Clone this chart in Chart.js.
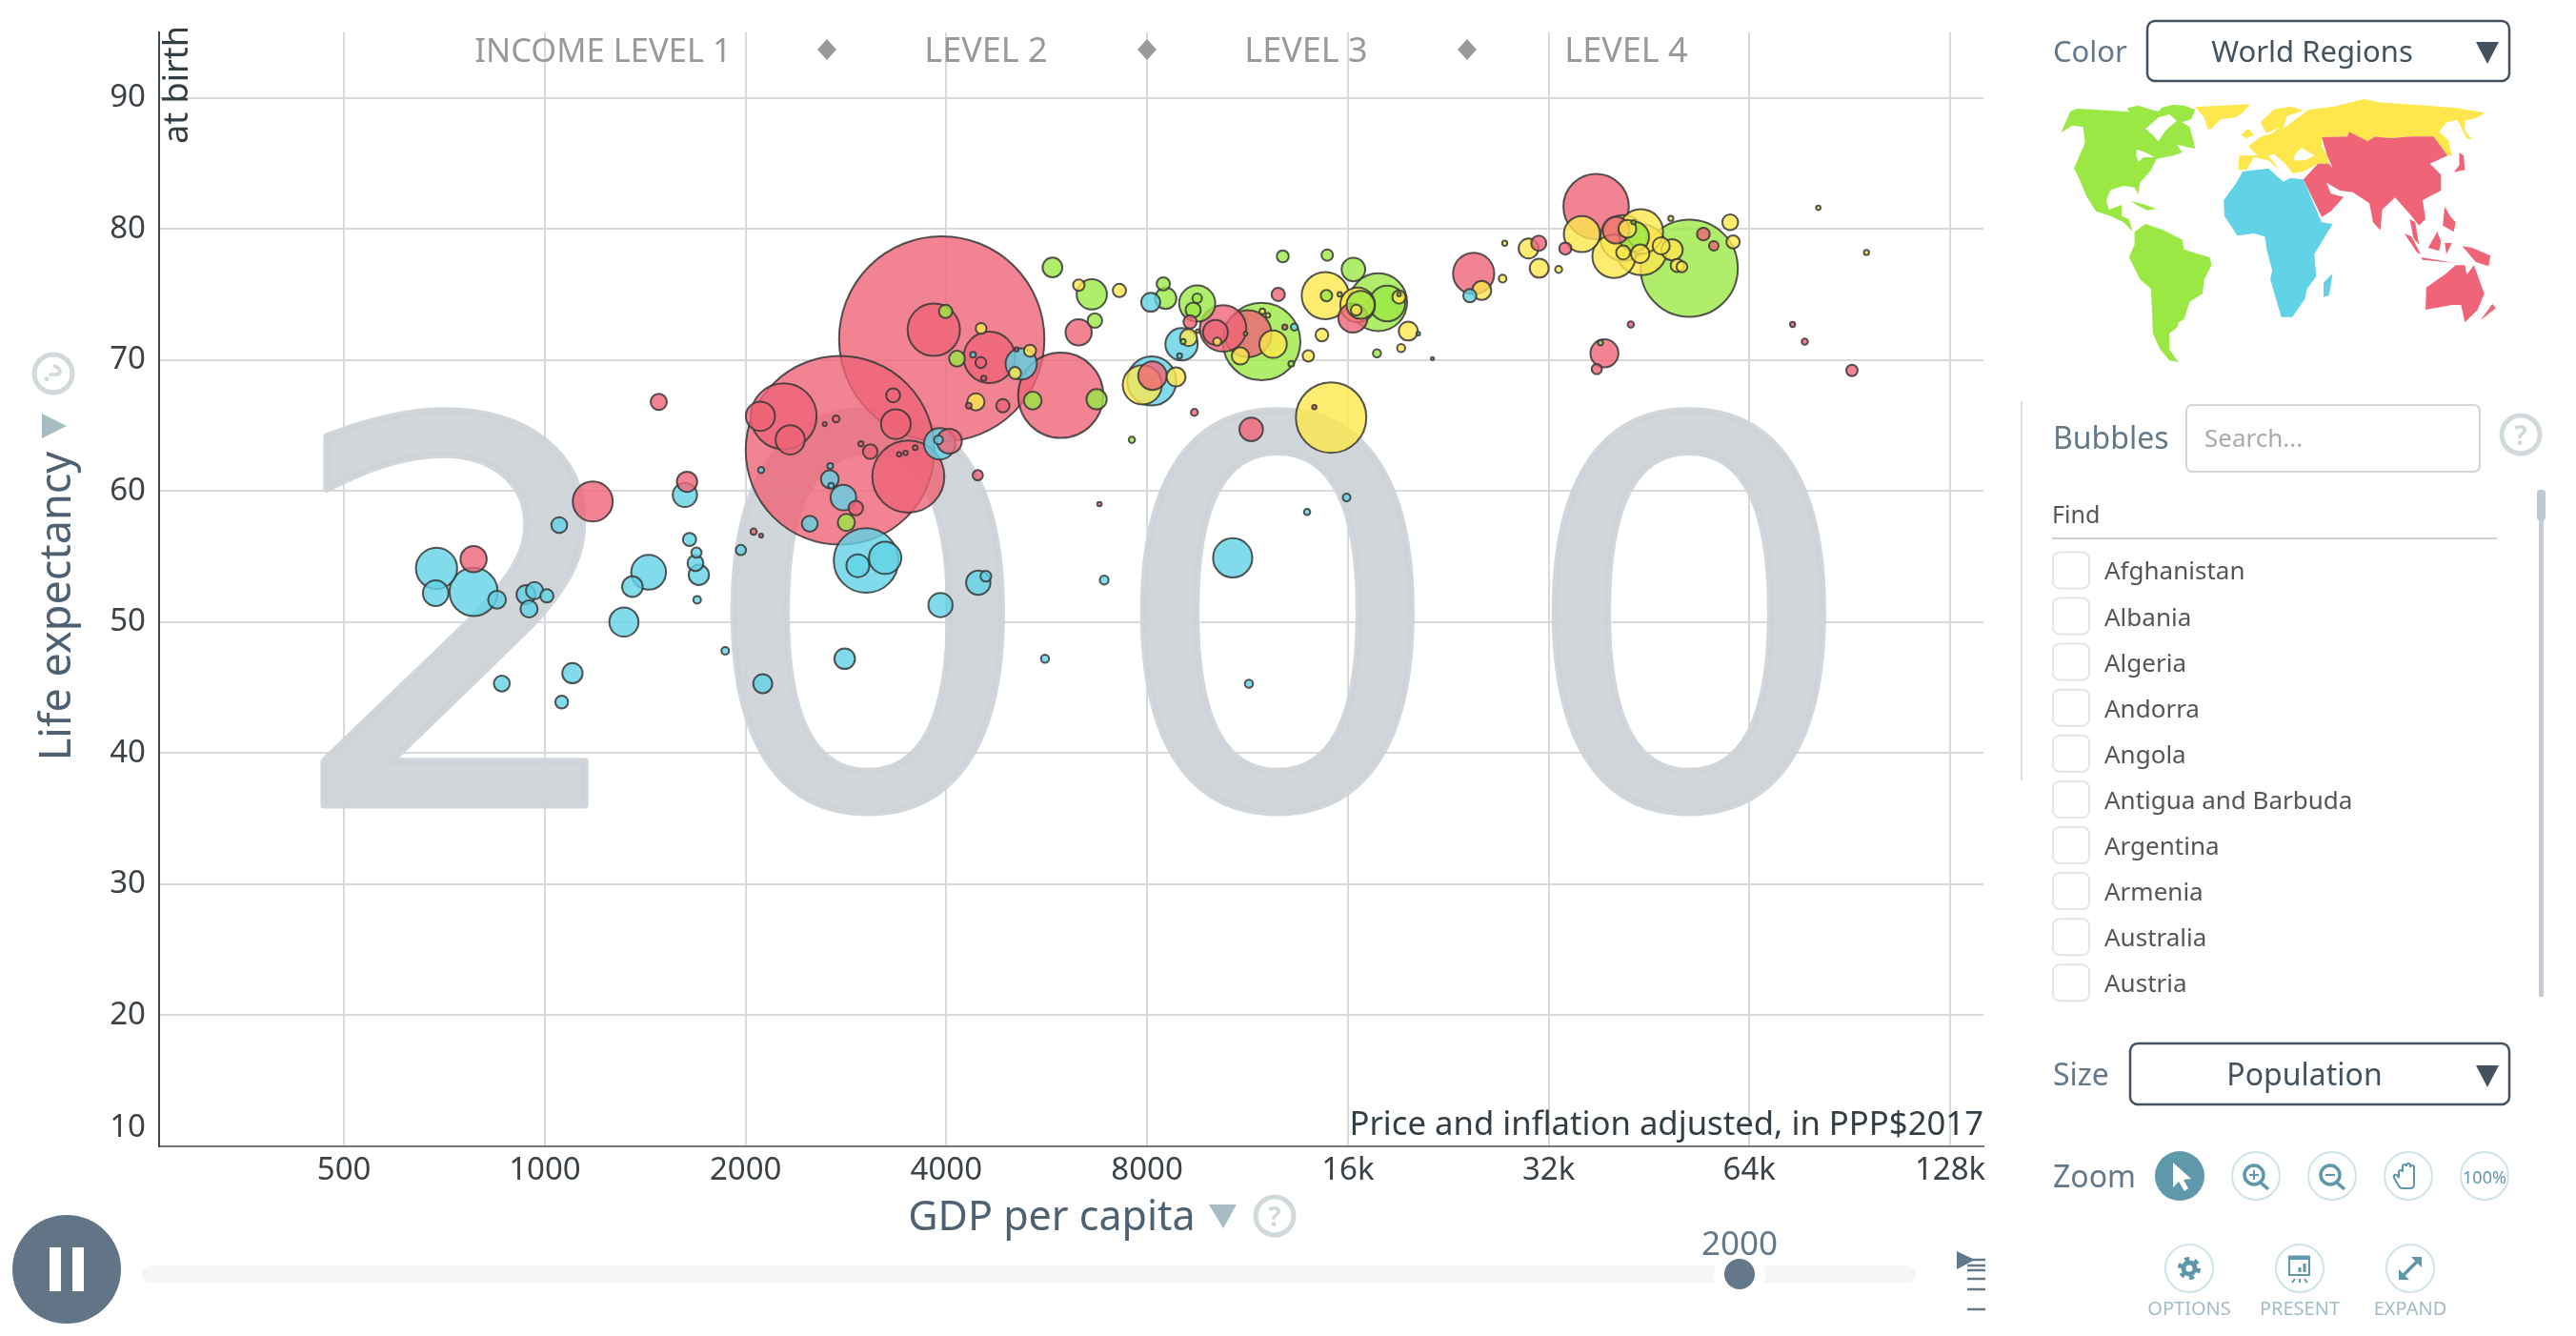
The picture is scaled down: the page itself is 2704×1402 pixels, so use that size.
<!DOCTYPE html>
<html>
<head>
<meta charset="utf-8">
<title>GDP per capita vs life expectancy, 2000</title>
<script src="https://cdn.jsdelivr.net/npm/chart.js@4/dist/chart.umd.min.js"></script>
<style>
  html, body { margin: 0; padding: 0; background: #fff; width: 2704px; height: 1402px; overflow: hidden; }
  body { position: relative; font-family: "Noto Sans", sans-serif; }
  #chart { position: absolute; left: 0; top: 0; }
  #overlay { position: absolute; left: 0; top: 0; }
  .lbl { position: absolute; white-space: nowrap; line-height: 1; }
</style>
</head>
<body>
<canvas id="chart" width="2704" height="1402" style="width:2704px;height:1402px"></canvas>

<svg id="overlay" width="2704" height="1402" viewBox="0 0 2704 1402">
  <!-- world map, traced by hand -->
  <g transform="translate(2100,0) scale(0.3852,0.3333)">
    <g fill="#9be845">
      <polygon points="165,418 190,350 210,342 350,352 345,340 375,332 410,345 430,350 440,338 470,330 500,332 530,345 520,375 495,385 515,400 525,440 530,468 480,455 495,480 470,490 425,500 410,535 380,575 375,612 365,590 335,585 300,598 288,630 295,660 330,645 330,680 350,690 360,730 335,700 300,680 260,665 235,620 215,565 200,530 215,490 230,450 225,400 195,395"/>
      <polygon points="355,632 395,645 425,658 400,662 370,645"/>
      <polygon points="365,730 395,705 445,725 495,755 500,785 525,795 570,810 575,835 555,880 550,925 515,950 500,1005 485,1015 482,1030 460,1050 460,1100 485,1140 460,1135 435,1100 415,1050 410,910 380,880 350,810 365,770"/>
    </g>
    <g fill="#fff">
      <polygon points="395,405 430,370 460,360 480,380 450,410 430,445 415,425"/>
      <polygon points="370,470 395,480 420,495 390,495 375,510 370,490"/>
    </g>
    <g fill="#fde74c">
      <polygon points="530,337 680,328 660,355 640,370 600,375 575,405 565,408 555,370"/>
      <polygon points="655,425 675,405 690,425 670,435"/>
      <polygon points="650,490 700,490 675,460 710,430 740,420 760,400 725,420 708,385 745,345 790,335 825,348 780,365 770,405 840,345 910,335 990,312 1030,322 1130,330 1240,340 1320,355 1300,370 1265,380 1265,410 1285,440 1270,435 1245,378 1215,385 1195,415 1220,440 1230,490 1218,490 1180,430 1120,430 1060,435 1020,430 1000,445 950,420 940,430 875,432 875,460 890,490 895,515 865,515 825,540 795,545 775,515 745,485 730,490 760,535 730,505 690,495 670,535 648,535"/>
    </g>
    <polygon fill="#fff" points="800,490 820,465 855,490 830,505 800,505"/>
    <g fill="#ef6477">
      <polygon points="875,432 945,430 950,415 1000,445 1020,430 1060,435 1120,430 1180,430 1218,490 1190,505 1170,515 1200,550 1200,600 1150,630 1158,690 1140,710 1120,680 1075,622 1040,660 1035,725 1015,700 1005,640 960,605 925,600 888,575 900,610 935,620 900,665 875,683 825,565 865,515 895,515 905,530 890,490"/>
      <polygon points="1250,480 1262,490 1265,535 1235,542 1250,520"/>
      <polygon points="1100,735 1120,745 1145,800 1135,795"/>
      <polygon points="1115,690 1130,700 1140,770 1125,750"/>
      <polygon points="1210,650 1225,680 1240,700 1235,730 1205,710"/>
      <polygon points="1190,730 1200,760 1195,790 1165,780"/>
      <polygon points="1210,765 1230,765 1215,800"/>
      <polygon points="1145,810 1240,828 1150,818"/>
      <polygon points="1258,775 1285,780 1335,805 1330,838 1295,825"/>
      <polygon points="1160,905 1215,860 1240,835 1265,835 1270,865 1290,835 1318,925 1300,975 1265,1015 1255,960 1230,960 1158,975"/>
      <polygon points="1340,957 1350,970 1308,1008"/>
    </g>
    <g fill="#62d2e6">
      <polygon points="660,540 730,530 770,572 790,560 825,565 875,700 905,705 855,800 860,870 835,910 830,940 795,998 765,998 735,880 740,850 725,785 720,745 690,735 645,742 610,680 608,630 640,580"/>
      <polygon points="905,860 895,930 880,935 880,890"/>
    </g>
  </g>

  <!-- selects -->
  <rect x="2254" y="22" width="380" height="63" rx="8" fill="none" stroke="#44525f" stroke-width="2.5"/>
  <polygon points="2599,44 2623,44 2611,67" fill="#44525f"/>
  <rect x="2236" y="1095" width="398" height="64" rx="8" fill="none" stroke="#44525f" stroke-width="2.5"/>
  <polygon points="2599,1118 2623,1118 2611,1141" fill="#44525f"/>

  <!-- bubbles panel -->
  <line x1="2122" y1="421" x2="2122" y2="819" stroke="#d5e3ea" stroke-width="2"/>
  <rect x="2295" y="425" width="308" height="70" rx="6" fill="#fff" stroke="#d0d5d9" stroke-width="2"/>
  <line x1="2154" y1="565" x2="2621" y2="565" stroke="#ccd3d8" stroke-width="2"/>
  <rect x="2665" y="517" width="5" height="529" fill="#c3ccd4"/>
  <rect x="2663" y="514" width="9" height="32" rx="3" fill="#bcc8d2"/>

  <!-- axis markers -->
  <polygon points="44,434 44,460 70,447" fill="#a8bcc4"/>
  <polygon points="1269,1264 1298,1264 1284,1289" fill="#a8bcc4"/>
  <g fill="none" stroke="#d2d9dd" stroke-width="5">
    <circle cx="56" cy="392" r="20"/>
    <circle cx="1338" cy="1276" r="20"/>
    <circle cx="2646" cy="456" r="20"/>
  </g>

  <!-- income level diamonds -->
  <g fill="#999">
    <polygon points="868,41 878,52 868,63 858,52"/>
    <polygon points="1204,41 1214,52 1204,63 1194,52"/>
    <polygon points="1540,41 1550,52 1540,63 1530,52"/>
  </g>

  <!-- timeline -->
  <rect x="149" y="1328" width="1862" height="18" rx="9" fill="#f4f6f8"/>
  <circle cx="1826" cy="1337" r="27" fill="#fff"/>
  <circle cx="1826" cy="1337" r="16" fill="#64788a"/>
  <circle cx="70" cy="1332" r="57" fill="#627586"/>
  <rect x="52" y="1309" width="12" height="46" fill="#fff"/>
  <rect x="76" y="1309" width="12" height="46" fill="#fff"/>
  <polygon points="2054,1313 2054,1332 2073,1322" fill="#64788a"/>
  <g stroke="#64788a" stroke-width="2.5">
    <line x1="2065" y1="1322" x2="2084" y2="1322"/>
    <line x1="2065" y1="1328" x2="2084" y2="1328"/>
    <line x1="2065" y1="1333" x2="2084" y2="1333"/>
    <line x1="2065" y1="1342" x2="2084" y2="1342"/>
    <line x1="2065" y1="1353" x2="2084" y2="1353"/>
    <line x1="2065" y1="1374" x2="2084" y2="1374"/>
  </g>

  <!-- zoom buttons -->
  <circle cx="2288" cy="1234" r="26" fill="#5f97ab"/>
  <polygon points="2281,1220 2281,1246 2287,1240 2293,1250 2297,1247 2292,1238 2300,1237" fill="#fff"/>
  <g fill="#fff" stroke="#cfe3ea" stroke-width="2">
    <circle cx="2368" cy="1234" r="25"/>
    <circle cx="2448" cy="1234" r="25"/>
    <circle cx="2528" cy="1234" r="25"/>
    <circle cx="2608" cy="1234" r="25"/>
    <circle cx="2298" cy="1331" r="25"/>
    <circle cx="2414" cy="1331" r="25"/>
    <circle cx="2530" cy="1331" r="25"/>
  </g>
  <g fill="none" stroke="#5f97ab" stroke-width="3.5">
    <circle cx="2366" cy="1233" r="10"/>
    <line x1="2373" y1="1241" x2="2381" y2="1248"/>
    <line x1="2361" y1="1233" x2="2371" y2="1233" stroke-width="2"/>
    <line x1="2366" y1="1228" x2="2366" y2="1238" stroke-width="2"/>
    <circle cx="2446" cy="1233" r="10"/>
    <line x1="2453" y1="1241" x2="2461" y2="1248"/>
    <line x1="2441" y1="1233" x2="2451" y2="1233" stroke-width="2"/>
    <path d="M2518,1236 v-6 a2,2 0 0 1 4,0 v-6 a2,2 0 0 1 4,0 v-1 a2,2 0 0 1 4,0 v2 a2,2 0 0 1 4,0 v18 q0,4 -4,4 h-8 q-3,0 -5,-4 l-4,-7 a2,2 0 0 1 4,-2 z" stroke-width="2"/>
    <circle cx="2298" cy="1331" r="6" stroke-width="5"/>
    <circle cx="2298" cy="1331" r="10" stroke-width="4" stroke-dasharray="5 5.5"/>
    <rect x="2403" y="1321" width="21" height="17" stroke-width="2"/>
    <line x1="2402" y1="1319" x2="2425" y2="1319" stroke-width="3"/>
    <line x1="2409" y1="1342" x2="2406" y2="1346" stroke-width="2"/>
    <line x1="2419" y1="1342" x2="2422" y2="1346" stroke-width="2"/>
    <line x1="2414" y1="1342" x2="2414" y2="1346" stroke-width="2"/>
    <line x1="2419" y1="1335" x2="2419" y2="1326" stroke-width="3"/>
    <line x1="2414" y1="1335" x2="2414" y2="1330" stroke-width="3"/>
    <line x1="2521" y1="1340" x2="2539" y2="1322"/>
  </g>
  <g fill="#5f97ab">
    <polygon points="2518,1343 2518,1332 2529,1343"/>
    <polygon points="2542,1319 2542,1330 2531,1319"/>
  </g>
  <!-- checkboxes -->
  <g id="checks" fill="#fff" stroke="#e2e6e9" stroke-width="2"></g>
</svg>

<script>
// values: GDP per capita, life expectancy, population (millions)
const asiaGdp = [3937,2771,3508,3830,4640,2281,2105,2333,3360,3329,3076,2734,2628,2978,3398,3474,3593,2926,4042,5937,6316,4862,4322,4551,4506,5097,4459,2056,2110,6787,1634,9420,11460,14250,12580,8150,9280,10400,10130,11330,12870,16280,24700,30930,33900,37700,40400,54600,56600,74300,77500,91200,42500,38800,37790,1180,782,1482];
const asiaLife = [71.6,63.1,61.1,72.3,70.2,65.7,65.7,63.9,65.1,67.3,63,65.5,65.1,63.6,62.8,62.9,63.3,58.7,63.8,67.3,72.1,66.5,66.5,68.6,69.8,70.8,61.2,56.9,56.6,59,60.7,66,64.7,66.4,75,68.8,72.9,72.4,72.1,72,72.5,73.2,76.6,78.9,78.5,81.7,79.9,79.6,78.7,72.7,71.4,69.2,72.7,70.5,69.3,59.2,54.8,66.8];
const asiaPop = [1290,1089,159,84,81,133,26,26,27,6,6.5,1.5,0.5,0.8,0.6,0.6,0.7,6.5,19,222,21,5.4,1,0.8,3.6,0.5,3.2,1.2,0.5,0.6,12.6,1.5,17,0.6,5.4,25,5.4,66,19,68,0.8,26,52,7,4.5,131,22,5,2.8,0.8,1.2,4,1.2,24,3.2,49,21,8];

const africaGdp = [3909,3893,1622,1648,1968,1688,1682,1702,1692,3032,2947,3238,4466,4585,3920,6899,10750,13900,2675,2679,2687,2803,2496,2110,5180,4386,8100,9010,8130,13300,8950,688,686,782,848,937,965,1007,947,1051,1431,1353,1314,1100,862,1060,1864,2122,2816,15930,20400,24380,5623,11370];
const africaLife = [63.6,63.9,59.7,56.3,55.5,55.3,54.5,53.6,51.7,54.7,54.3,54.9,53,53.5,51.3,53.2,54.9,58.4,60.9,61.9,60.4,59.5,57.5,61.6,69.7,70.4,74.4,71.2,68.4,72.5,70.3,54.1,52.2,52.3,51.7,52.1,52.4,52,51,57.4,53.8,52.7,50,46.1,45.3,43.9,47.8,45.3,47.2,59.5,72,74.9,47.2,45.3];
const africaPop = [30,2.4,18,5.4,3.2,3.2,7.7,12.6,1.8,128,16,32,18,3.6,18,2.4,47,1.2,9.7,1,1,20,7.7,1.2,30,1,11,32,74,1.5,0.8,52,20,71,9.7,11,9,5.4,9,7.7,37,13,26,12.6,7.7,5,1.8,11,13,1.8,0.4,5.4,2,2];

const americasGdp = [5770,6610,6680,8460,8530,9510,9510,9380,12780,14900,11880,14860,9530,11240,13160,3990,4150,5390,6720,7590,2832,9060,16310,17770,18330,16720,17690,21430,15560,19090,38270,52000,43000,42900];
const americasLife = [77.05,75,73,75.8,74.7,74.3,74.7,73.8,77.9,78,71.4,74.9,72.2,72,69.7,73.7,70.1,66.9,67,63.9,57.6,71.4,76.9,74.4,74.3,74.2,70.5,70.1,75,75,71.3,77,79.4,80.5];
const americasPop = [11.9,28,6.5,5.4,14,40,2.8,7,4.4,4,184,4,0.4,0.4,1,5.4,7.7,9.7,12.6,1.2,9,0.8,17,102,39,24,2,0.3,0.6,0.4,0.8,289,27,0.6];

const europeGdp = [6320,7270,8840,7870,9230,10190,11040,12360,11910,12140,14630,13960,14800,4510,5340,5070,4430,15100,16550,19090,16470,19710,19230,25400,27300,27500,29860,30980,33130,35900,40100,44000,44100,41400,42000,41400,43900,47200,49000,49900,50700,59900,60500,48800,81200,95900];
const europeLife = [75.7,75.3,68.7,68.1,71.7,71.4,70.3,71.2,73.7,73.4,71.9,70.3,74.9,72.4,70.7,69,66.8,65.6,74.2,74.8,73.8,72.2,70.9,75.3,76.2,78.9,78.5,77,76.9,79.6,77.9,79.8,78.4,79.3,80,78.2,78.1,78.7,78.4,77.2,77.1,80.5,79,80.8,81.6,78.2];
const europePop = [4,5.4,11,47,9,2,9,23,1,0.6,5,4,68,3.6,4.5,4.5,9,152,37,5.4,3.6,11,2,11,1.8,0.8,12,11,1.5,40,57,60.5,79,64,9.7,6,10.4,9,14,5.4,3.6,7.7,5.4,0.8,0.6,0.8];

const regionFills = { asia: 'rgba(239,100,119,0.8)', africa: 'rgba(98,210,230,0.8)', americas: 'rgba(155,232,69,0.8)', europe: 'rgba(253,231,76,0.8)' };

const xTickValues = [500, 1000, 2000, 4000, 8000, 16000, 32000, 64000, 128000];
const xTickLabels = ['500', '1000', '2000', '4000', '8000', '16k', '32k', '64k', '128k'];
const yTickValues = [10, 20, 30, 40, 50, 60, 70, 80, 90];
const yearDigits = ['2', '0', '0', '0'];
const findCountries = ['Afghanistan', 'Albania', 'Algeria', 'Andorra', 'Angola', 'Antigua and Barbuda', 'Argentina', 'Armenia', 'Australia', 'Austria'];

const UI_FONT = '"Noto Sans", sans-serif';
const TICK_COLOR = '#3b4247';

// area of the bubble follows population
function radiusOf(pop) {
    return 3 * Math.sqrt(pop);
}

function collect(region, gdp, life, pop) {
    return gdp.map((g, i) => ({ x: g, y: life[i], r: radiusOf(pop[i]), pop: pop[i], region }));
}

// biggest first so small countries stay on top
const points = [
    ...collect('asia', asiaGdp, asiaLife, asiaPop),
    ...collect('africa', africaGdp, africaLife, africaPop),
    ...collect('americas', americasGdp, americasLife, americasPop),
    ...collect('europe', europeGdp, europeLife, europePop)
].sort((a, b) => b.pop - a.pop);

// big year behind the bubbles
const yearWatermark = {
    id: 'yearWatermark',
    beforeDatasetsDraw(chart) {
        const ctx = chart.ctx;
        const centers = [485, 911, 1341, 1773];
        ctx.save();
        ctx.font = '558px "DejaVu Sans"';
        ctx.textAlign = 'center';
        ctx.textBaseline = 'alphabetic';
        ctx.fillStyle = 'rgba(206,212,216,0.95)';
        ctx.strokeStyle = 'rgba(206,212,216,0.95)';
        ctx.lineJoin = 'round';
        ctx.lineWidth = 7;
        yearDigits.forEach((d, i) => {
            ctx.save();
            ctx.translate(centers[i], 845);
            // the 2 runs a little wider in the original
            if (d === '2') ctx.scale(1.06, 1);
            ctx.fillText(d, 0, 0);
            ctx.strokeText(d, 0, 0);
            ctx.restore();
        });
        ctx.restore();
    }
};

new Chart(document.getElementById('chart'), {
    type: 'bubble',
    data: {
        datasets: [{
            data: points,
            backgroundColor: (c) => c.raw ? regionFills[c.raw.region] : 'transparent',
            borderColor: 'rgba(55,55,55,0.85)',
            borderWidth: 2,
            clip: false
        }]
    },
    plugins: [yearWatermark],
    options: {
        responsive: false,
        animation: false,
        events: [],
        // no extra room for the bubbles, the plot area is fixed
        layout: { autoPadding: false, padding: { left: 0, top: 29, right: 622, bottom: 139 } },
        plugins: { legend: { display: false }, tooltip: { enabled: false } },
        scales: {
            x: {
                type: 'logarithmic',
                min: 264,
                max: 143600,
                afterBuildTicks: (scale) => { scale.ticks = xTickValues.map(v => ({ value: v })); },
                afterFit: (scale) => { scale.height = 60; },
                grid: { color: '#d9d9d9', lineWidth: 2, drawTicks: false },
                border: { color: '#777', width: 2 },
                ticks: {
                    autoSkip: false,
                    maxRotation: 0,
                    padding: 6,
                    color: TICK_COLOR,
                    font: { family: UI_FONT, size: 33 },
                    callback: (v) => xTickLabels[xTickValues.indexOf(v)]
                }
            },
            y: {
                min: 10,
                max: 95,
                afterBuildTicks: (scale) => { scale.ticks = yTickValues.map(v => ({ value: v })); },
                afterFit: (scale) => { scale.width = 167; },
                grid: { color: '#d9d9d9', lineWidth: 2, drawTicks: false },
                border: { color: '#3d4a52', width: 2 },
                ticks: {
                    padding: 14,
                    color: TICK_COLOR,
                    font: { family: UI_FONT, size: 33 },
                    // the bottom label sits above the axis line
                    callback: (v) => v === 10 ? ['10', ''] : String(v)
                }
            }
        }
    }
});

// text around the chart
function label(text, x, y, size, color, opts) {
    opts = opts || {};
    const el = document.createElement('div');
    el.className = 'lbl';
    el.textContent = text;
    el.style.left = x + 'px';
    el.style.top = y + 'px';
    el.style.fontSize = size + 'px';
    el.style.color = color;
    const tx = opts.align === 'center' ? '-50%' : opts.align === 'right' ? '-100%' : '0';
    el.style.transform = `translate(${tx},-50%)` + (opts.rotate ? ` rotate(${opts.rotate}deg)` : '');
    if (opts.font) el.style.fontFamily = opts.font;
    if (opts.weight) el.style.fontWeight = opts.weight;
    document.body.appendChild(el);
}

const SLATE = '#64788a';
const DARK_SLATE = '#44525f';

label('INCOME LEVEL 1', 633, 52, 34.5, '#999', { align: 'center' });
label('LEVEL 2', 1035, 52, 36, '#999', { align: 'center' });
label('LEVEL 3', 1371, 52, 36, '#999', { align: 'center' });
label('LEVEL 4', 1707, 52, 36, '#999', { align: 'center' });
label('Price and inflation adjusted, in PPP$2017', 2082, 1178, 34.7, '#333d44', { align: 'right' });

label('Life expectancy', 56, 636, 45, '#4e6172', { align: 'center', rotate: -90 });
label('at birth', 184, 89, 36, '#333d44', { align: 'center', rotate: -90 });
label('GDP per capita', 1104, 1274, 43, '#4e6172', { align: 'center' });
label('?', 56, 392, 28, '#d2d9dd', { align: 'center', weight: 700, rotate: 45 });
label('?', 1338, 1276, 28, '#d2d9dd', { align: 'center', weight: 700 });
label('?', 2646, 456, 28, '#d2d9dd', { align: 'center', weight: 700 });

label('2000', 1826, 1303, 35, SLATE, { align: 'center' });

label('Color', 2155, 53, 31, SLATE);
label('World Regions', 2427, 53, 31, DARK_SLATE, { align: 'center' });
label('Bubbles', 2155, 459, 32, SLATE);
label('Search...', 2314, 459, 26, '#aaa');
label('Find', 2154, 539, 25, '#555');
label('Size', 2155, 1127, 32, SLATE);
label('Population', 2419, 1127, 32, DARK_SLATE, { align: 'center' });
label('Zoom', 2155, 1234, 32, SLATE);
label('100%', 2608, 1235, 18, '#5f97ab', { align: 'center' });
label('OPTIONS', 2298, 1373, 20, '#a5bcc6', { align: 'center' });
label('PRESENT', 2414, 1373, 20, '#a5bcc6', { align: 'center' });
label('EXPAND', 2530, 1373, 20, '#a5bcc6', { align: 'center' });

const checks = document.getElementById('checks');
findCountries.forEach((name, i) => {
    const y = 598.4 + i * 48.1;
    const box = document.createElementNS('http://www.w3.org/2000/svg', 'rect');
    box.setAttribute('x', 2155);
    box.setAttribute('y', y - 19);
    box.setAttribute('width', 38);
    box.setAttribute('height', 38);
    box.setAttribute('rx', 7);
    checks.appendChild(box);
    label(name, 2209, y, 26, '#555');
});
</script>
</body>
</html>
